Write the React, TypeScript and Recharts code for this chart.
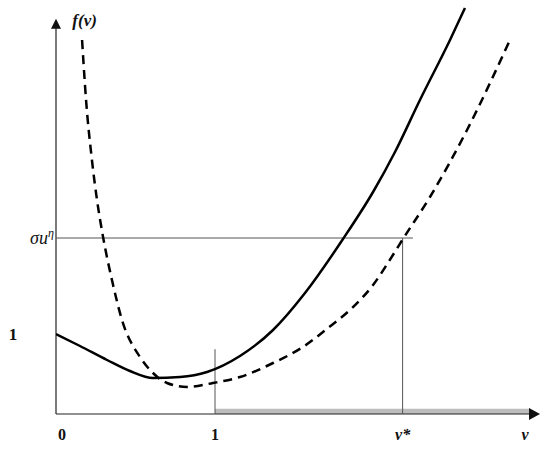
import {
  LineChart,
  Line,
  XAxis,
  YAxis,
  ReferenceLine,
  ReferenceArea,
  ReferenceDot,
} from "recharts";

// x in units of v (0 -> 1 is one unit), y in units of f(v)
const solidX = [0, 0.151, 0.321, 0.465, 0.61, 0.78, 0.95, 1.157, 1.365, 1.566, 1.805, 1.994, 2.132, 2.289, 2.478, 2.572];
const solidY = [1.0, 0.85, 0.675, 0.5375, 0.45, 0.4625, 0.525, 0.725, 1.05, 1.5125, 2.1875, 2.775, 3.275, 3.925, 4.675, 5.075];

const dashedX = [0.164, 0.189, 0.226, 0.258, 0.296, 0.352, 0.415, 0.528, 0.61, 0.698, 0.824, 0.987, 1.157, 1.365, 1.553, 1.711, 1.862, 1.994, 2.119, 2.182, 2.352, 2.585, 2.855];
const dashedY = [4.675, 3.925, 3.175, 2.675, 2.2125, 1.675, 1.175, 0.7125, 0.5125, 0.3875, 0.3375, 0.3875, 0.4625, 0.6375, 0.8375, 1.075, 1.325, 1.6125, 1.9875, 2.1875, 2.7125, 3.55, 4.675];

const vStar = 2.18;
const sigmaLevel = 2.2;
const xTicks = [0, 1, vStar, 2.95];
const xTickLabels = ["0", "1", "v*", "v"];
const yTicks = [1, sigmaLevel];

const solid = solidX.map((x, i) => ({ x, y: solidY[i] }));
const dashed = dashedX.map((x, i) => ({ x, y: dashedY[i] }));

const font = "'Liberation Serif', 'DejaVu Serif', serif";

const XTick = (props: any) => {
  const { x, y, index } = props;
  const label = xTickLabels[index];
  const italic = label.startsWith("v");
  return (
    <text
      x={x + (index === 0 ? 6 : 0)}
      y={y + 18}
      textAnchor="middle"
      fontFamily={font}
      fontWeight="bold"
      fontStyle={italic ? "italic" : "normal"}
      fontSize={16}
      fill="#111"
    >
      {label}
    </text>
  );
};

const YTick = (props: any) => {
  const { y, payload } = props;
  if (payload.value === 1) {
    return (
      <text x={13} y={y + 6} textAnchor="middle" fontFamily={font} fontWeight="bold" fontSize={17} fill="#111">
        1
      </text>
    );
  }
  return (
    <text x={30} y={y + 6} fontFamily={font} fontStyle="italic" fontSize={18} fill="#111">
      σu
      <tspan dy={-7} fontSize={12}>η</tspan>
    </text>
  );
};

export default function App() {
  return (
    <div style={{ position: "absolute", left: 0, top: 0, background: "#fff" }}>
      <LineChart width={550} height={455} margin={{ top: 5, right: 10, bottom: 0, left: 0 }}>
        <XAxis
          type="number"
          dataKey="x"
          domain={[0, 3.044]}
          ticks={xTicks}
          tick={<XTick />}
          axisLine={false}
          tickLine={false}
          height={41}
          allowDataOverflow
        />
        <YAxis
          type="number"
          dataKey="y"
          domain={[0, 5.1125]}
          ticks={yTicks}
          tick={<YTick />}
          axisLine={false}
          tickLine={false}
          width={56}
          allowDataOverflow
        />
        <ReferenceArea x1={1} x2={2.98} y1={0} y2={0.065} fill="#bdbdbd" fillOpacity={1} stroke="none" />
        <ReferenceLine segment={[{ x: 0, y: 0 }, { x: 3.0, y: 0 }]} stroke="#222" strokeWidth={1.2} />
        <ReferenceLine segment={[{ x: 0, y: 0 }, { x: 0, y: 4.85 }]} stroke="#222" strokeWidth={1.2} />
        <ReferenceLine segment={[{ x: 0, y: sigmaLevel }, { x: 2.245, y: sigmaLevel }]} stroke="#555" strokeWidth={1} />
        <ReferenceLine segment={[{ x: vStar, y: 0 }, { x: vStar, y: sigmaLevel }]} stroke="#555" strokeWidth={1} />
        <ReferenceLine segment={[{ x: 1, y: 0 }, { x: 1, y: 0.81 }]} stroke="#555" strokeWidth={1} />
        <ReferenceDot
          x={0}
          y={4.94}
          r={0}
          ifOverflow="visible"
          shape={(p: any) => (
            <polygon points={`${p.cx},${p.cy} ${p.cx - 5},${p.cy + 10} ${p.cx + 5},${p.cy + 10}`} fill="#111" />
          )}
        />
        <ReferenceDot
          x={3.044}
          y={0}
          r={0}
          ifOverflow="visible"
          shape={(p: any) => (
            <polygon points={`${p.cx},${p.cy} ${p.cx - 11},${p.cy - 6} ${p.cx - 11},${p.cy + 6}`} fill="#111" />
          )}
        />
        <ReferenceDot
          x={0.18}
          y={4.85}
          r={0}
          ifOverflow="visible"
          shape={(p: any) => (
            <text x={p.cx} y={p.cy} textAnchor="middle" fontFamily={font} fontWeight="bold" fontStyle="italic" fontSize={17} fill="#111">
              f(v)
            </text>
          )}
        />
        <Line
          data={solid}
          dataKey="y"
          type="monotone"
          stroke="#000"
          strokeWidth={2.5}
          dot={false}
          isAnimationActive={false}
        />
        <Line
          data={dashed}
          dataKey="y"
          type="monotone"
          stroke="#000"
          strokeWidth={2.5}
          strokeDasharray="9 6"
          dot={false}
          isAnimationActive={false}
        />
      </LineChart>
    </div>
  );
}
